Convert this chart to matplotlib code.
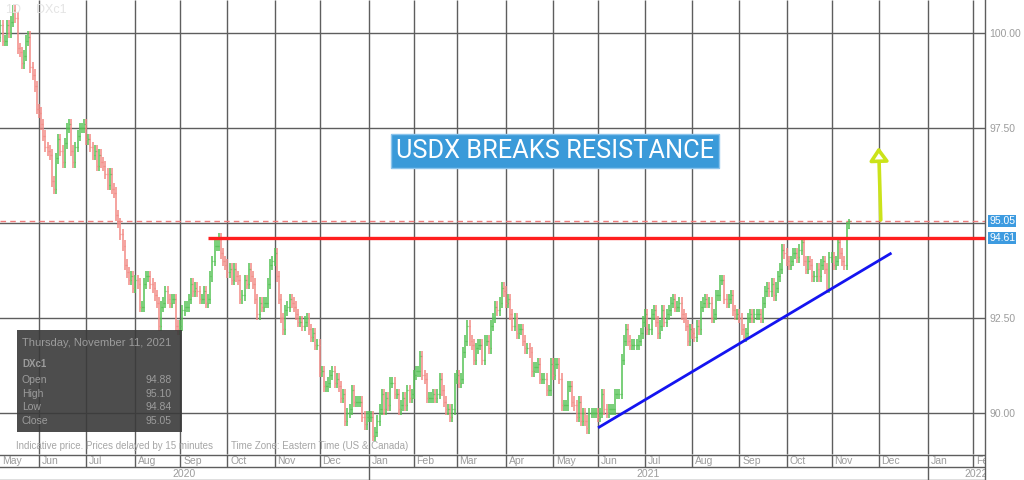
import numpy as np
import pandas as pd
import matplotlib
matplotlib.use("Agg")
import matplotlib.pyplot as plt
from matplotlib.lines import Line2D
from matplotlib.patches import Rectangle
from matplotlib.transforms import blended_transform_factory

plt.rcParams['font.family'] = ['Liberation Sans', 'DejaVu Sans']

# DXc1 daily closes, one list per month
may20 = [99.1, 99.6, 99.9, 100.2, 99.8, 99.8, 100.2, 100.0, 100.3, 100.6, 100.4,
         99.6, 99.5, 99.2, 99.4, 99.8, 99.9, 99.1, 98.9, 98.6, 98.0]
jun20 = [97.9, 97.6, 97.3, 97.0, 96.9, 96.8, 96.1, 95.9, 96.7, 97.2, 96.9,
         96.6, 97.1, 97.5, 97.6, 96.9, 96.6, 97.0, 97.3, 97.5, 97.5, 97.6]
jul20 = [97.2, 97.2, 97.0, 96.8, 96.9, 96.5, 96.8, 96.6, 96.5, 96.3, 96.0, 96.3,
         95.9, 95.8, 95.2, 95.0, 94.7, 94.4, 93.9, 93.7, 93.5, 93.6, 93.3]
aug20 = [93.5, 93.4, 92.8, 92.8, 93.4, 93.6, 93.6, 93.4, 93.3, 93.1, 92.9,
         92.3, 92.8, 92.9, 93.2, 93.0, 92.9, 93.0, 93.0, 92.3, 92.2]
sep20 = [92.3, 92.7, 92.8, 92.8, 93.0, 93.4, 93.2, 93.3, 93.2, 93.0, 93.0,
         93.2, 92.9, 93.0, 93.6, 94.0, 94.4, 94.4, 94.6, 94.2, 94.0, 93.9]
oct20 = [93.7, 93.8, 93.5, 93.8, 93.6, 93.5, 93.0, 93.1, 93.5, 93.4, 93.8,
         93.6, 93.4, 93.0, 92.6, 92.9, 92.8, 92.9, 92.9, 93.4, 93.9, 94.0]
nov20 = [94.2, 93.6, 93.0, 92.5, 92.2, 92.7, 92.8, 93.0, 92.9, 92.8, 92.6,
         92.4, 92.4, 92.3, 92.4, 92.5, 92.2, 92.0, 92.1, 91.8, 91.8]
dec20 = [91.1, 91.1, 90.7, 90.7, 90.8, 91.0, 91.1, 90.8, 90.9, 90.7, 90.4, 90.5,
         89.8, 90.0, 90.1, 90.6, 90.3, 90.3, 90.3, 90.3, 89.9, 89.7, 89.9]
jan21 = [89.9, 89.9, 89.4, 89.5, 89.8, 90.1, 90.5, 90.1, 90.4, 90.2, 90.8,
         90.8, 90.5, 90.5, 90.1, 90.2, 90.4, 90.2, 90.6, 90.4, 90.5]
feb21 = [91.0, 91.1, 91.1, 91.5, 91.0, 90.9, 90.4, 90.4, 90.4, 90.5,
         90.4, 90.5, 90.9, 90.6, 90.3, 90.1, 90.1, 89.9, 90.1, 90.9]
mar21 = [91.0, 90.8, 90.9, 91.6, 91.9, 92.3, 91.9, 91.8, 91.4, 91.7, 91.8, 91.8,
         91.4, 91.9, 91.9, 91.7, 92.3, 92.5, 92.8, 92.7, 92.9, 93.3, 93.2]
apr21 = [92.9, 93.0, 92.6, 92.3, 92.5, 92.1, 92.2, 92.2, 91.9, 91.7, 91.7,
         91.6, 91.1, 91.2, 91.2, 91.3, 90.9, 90.9, 90.9, 90.6, 90.6, 91.3]
may21 = [91.0, 91.3, 91.3, 90.9, 90.2, 90.2, 90.2, 90.7, 90.7, 90.3, 90.2,
         89.9, 90.3, 89.8, 90.0, 89.8, 89.6, 90.0, 90.0, 90.0, 90.0]
jun21 = [89.9, 90.0, 90.5, 90.1, 90.0, 90.1, 90.1, 90.1, 90.5, 90.5, 90.5,
         91.4, 91.9, 92.2, 91.9, 91.8, 91.8, 91.8, 91.8, 91.9, 92.1, 92.4]
jul21 = [92.6, 92.2, 92.2, 92.6, 92.7, 92.4, 92.1, 92.3, 92.7, 92.4, 92.6,
         92.7, 92.9, 93.0, 92.8, 92.8, 92.9, 92.6, 92.5, 92.3, 91.9, 92.2]
aug21 = [92.1, 92.0, 92.3, 92.2, 92.8, 92.9, 93.0, 92.9, 92.9, 92.5, 92.6,
         93.1, 93.1, 93.5, 93.5, 93.0, 92.9, 93.0, 93.1, 92.7, 92.6, 92.6]
sep21 = [92.5, 92.2, 92.0, 92.1, 92.5, 92.6, 92.5, 92.6, 92.6, 92.6, 92.5,
         92.9, 93.2, 93.3, 93.2, 93.4, 93.1, 93.3, 93.6, 93.8, 94.3, 94.2]
oct21 = [94.0, 93.9, 94.0, 94.2, 94.2, 94.1, 94.3, 94.5, 94.0, 93.8, 94.0,
         93.9, 93.6, 93.6, 93.8, 93.6, 93.9, 94.0, 93.8, 93.3, 94.1]
nov21 = [94.1, 93.9, 94.0, 94.5, 94.2, 94.0, 93.9, 94.88, 95.05]

month_keys = ['2020-05', '2020-06', '2020-07', '2020-08', '2020-09', '2020-10',
              '2020-11', '2020-12', '2021-01', '2021-02', '2021-03', '2021-04',
              '2021-05', '2021-06', '2021-07', '2021-08', '2021-09', '2021-10',
              '2021-11']
month_closes = [may20, jun20, jul20, aug20, sep20, oct20, nov20, dec20, jan21,
                feb21, mar21, apr21, may21, jun21, jul21, aug21, sep21, oct21,
                nov21]

# last bar, from the info panel
last_day = 'Thursday, November 11, 2021'
last_ohlc = [94.88, 95.10, 94.84, 95.05]
ohlc_names = ['Open', 'High', 'Low', 'Close']

# drawn levels / annotations
resistance = 94.61
resistance_from = '2020-09-18'
trend_pts = [('2021-06-01', 89.61), ('2021-12-09', 94.21)]
arrow_pts = [('2021-12-02', 95.08), ('2021-12-01', 97.0)]
y_ticks = [90.0, 92.5, 95.0, 97.5, 100.0]

days = pd.bdate_range('2020-05-01', '2022-03-31')
idx_of = {d: i for i, d in enumerate(days)}


def di(s):
    return idx_of[pd.Timestamp(s)]


xs, closes = [], []
for key, vals in zip(month_keys, month_closes):
    md = days[days.strftime('%Y-%m') == key][:len(vals)]
    xs += [idx_of[d] for d in md]
    closes += vals
xs = np.array(xs, dtype=float)
closes = np.array(closes)
opens = np.r_[closes[0], closes[:-1]]
wick = 0.14
highs = np.maximum(opens, closes) + wick
lows = np.minimum(opens, closes) - wick
opens[-1], highs[-1], lows[-1], closes[-1] = last_ohlc

W, H = 1024, 480
pw, ph = 985, 454
px_day = 2.142
x0 = 2.8
xlim = (x0, x0 + pw / px_day)
ylim = (100 - 421 / 38, 100 + 33 / 38)

grid_c = '#5e5e5e'
txt_c = '#9c9c9c'
up_c, dn_c = '#55c255', '#f28a85'

fig = plt.figure(figsize=(W / 100, H / 100), dpi=100)
ax = fig.add_axes([0, 26 / H, pw / W, ph / H])
ax.set_xlim(*xlim)
ax.set_ylim(*ylim)
for s in ax.spines.values():
    s.set_visible(False)

# month starts
mstarts = [i for i in range(len(days)) if i == 0 or days[i].month != days[i - 1].month]

ax.vlines(mstarts, *ylim, color=grid_c, lw=1, zorder=1)
for y in y_ticks:
    ax.axhline(y, color=grid_c, lw=1, zorder=1)

# price tags sit over the 95.00 label, so it is left blank
tags = [closes[-1], resistance]
ax.set_xticks([])
ax.set_yticks(y_ticks)
ax.set_yticklabels(['' if min(abs(v - t) for t in tags) < 0.3 else f'{v:.2f}'
                    for v in y_ticks])
ax.yaxis.tick_right()
ax.tick_params(axis='y', length=0, pad=3, labelsize=7.5, labelcolor=txt_c)

cols = np.where(closes >= opens, up_c, dn_c)
ax.vlines(xs, lows, highs, colors=cols, lw=1.1, zorder=3)
ax.hlines(opens, xs - 0.45, xs, colors=cols, lw=0.9, zorder=3)
ax.hlines(closes, xs, xs + 0.45, colors=cols, lw=0.9, zorder=3)

ax.axhline(closes[-1], color='#f07c7c', lw=1, ls=(0, (4, 3)), zorder=2)
ax.hlines(resistance, di(resistance_from), xlim[1], color='#ff1f1f', lw=2.4, zorder=4)
ax.plot([di(d) for d, _ in trend_pts], [v for _, v in trend_pts],
        color='#1414f0', lw=2, zorder=4, solid_capstyle='butt')
ax.annotate('', xy=(di(arrow_pts[1][0]), arrow_pts[1][1]),
            xytext=(di(arrow_pts[0][0]), arrow_pts[0][1]),
            arrowprops=dict(arrowstyle='-|>,head_length=0.4,head_width=0.28',
                            mutation_scale=20, ec='#cbe31a', fc='white', lw=2.6,
                            shrinkA=0, shrinkB=0), zorder=5)

tr = blended_transform_factory(ax.transAxes, ax.transData)
for v in tags:
    ax.text(989 / pw, v, f'{v:.2f}', transform=tr, ha='left', va='center',
            color='white', fontsize=7.5, clip_on=False, zorder=6,
            bbox=dict(boxstyle='square,pad=0.12', fc='#3d9be0', ec='none'))


def apx(x, y):
    return x / pw, (ph - y) / ph


ax.text(*apx(5, 10), '1D', transform=ax.transAxes, va='center', fontsize=9, color='#e4e4e4')
ax.text(*apx(36, 10), 'DXc1', transform=ax.transAxes, va='center', fontsize=9, color='#e4e4e4')

# info panel
ax.add_patch(Rectangle(apx(17, 432), 165 / pw, 102 / ph, transform=ax.transAxes,
                       fc='#3a3a3a', ec='none', alpha=0.9, zorder=6))
ax.text(*apx(22, 343), last_day, transform=ax.transAxes, va='center',
        fontsize=8, color=txt_c, zorder=7)
ax.text(*apx(22, 364), 'DXc1', transform=ax.transAxes, va='center',
        fontsize=7, color=txt_c, weight='bold', zorder=7)
for k, (name, v) in enumerate(zip(ohlc_names, last_ohlc)):
    yy = 380 + k * 13.7
    ax.text(*apx(22, yy), name, transform=ax.transAxes, va='center',
            fontsize=7.5, color=txt_c, zorder=7)
    ax.text(*apx(172, yy), f'{v:.2f}', transform=ax.transAxes, va='center',
            ha='right', fontsize=7.5, color=txt_c, zorder=7)

ax.text(*apx(16, 446), 'Indicative price. Prices delayed by 15 minutes',
        transform=ax.transAxes, va='center', fontsize=7, color='#a6a6a6', zorder=7)
ax.text(*apx(231, 446), 'Time Zone: Eastern Time (US & Canada)',
        transform=ax.transAxes, va='center', fontsize=7, color='#a6a6a6', zorder=7)

fig.text(555 / W, 1 - 151 / H, 'USDX BREAKS RESISTANCE', ha='center', va='center',
         fontsize=18.3, family='Roboto', color='white',
         bbox=dict(boxstyle='square,pad=0.18', fc='#3a9ad9', ec='#8cc4ec', lw=1))

# date band under the plot
band = fig.add_axes([0, 0, pw / W, 26 / H])
band.set_xlim(*xlim)
band.set_ylim(0, 26)
band.axis('off')
band.axhline(25.5, color=grid_c, lw=1)
band.axhline(13, color=grid_c, lw=1)
band.axhline(0.5, color=grid_c, lw=1)
band.vlines(mstarts, 13, 26, color=grid_c, lw=1)
for i in mstarts:
    band.text(max(i + 1.3, xlim[0] + 0.8), 19.3, days[i].strftime('%b'),
              va='center', fontsize=7.5, color=txt_c, clip_on=True)
ystarts = [i for i in mstarts if days[i].month == 1]
band.vlines(ystarts, 0, 13, color=grid_c, lw=1)
edges = [xlim[0]] + ystarts + [xlim[0] + W / px_day]
for a, b in zip(edges[:-1], edges[1:]):
    band.text((a + b) / 2, 6.3, days[min(int(a) + 1, len(days) - 1)].strftime('%Y'),
              ha='center', va='center', fontsize=7.5, color=txt_c, clip_on=True)

fig.add_artist(Line2D([pw / W] * 2, [0, 1], transform=fig.transFigure, color=grid_c, lw=1))

fig.savefig('out.png', dpi=100, facecolor='white')
